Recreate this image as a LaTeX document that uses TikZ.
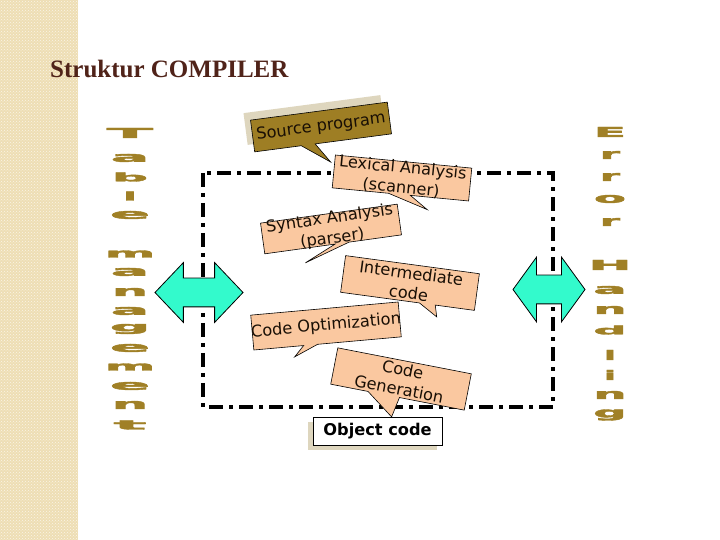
\documentclass[tikz,border=0pt]{standalone}
\usepackage{fontspec}
\usepackage{graphicx}
\usetikzlibrary{shapes}
\usetikzlibrary{shapes.arrows}
\usetikzlibrary{shadows}
\usetikzlibrary{patterns}
\newfontfamily\titlefont{Liberation Serif}
\newfontfamily\calfont{DejaVu Sans}
\newfontfamily\sidefont{DejaVu Sans}[BoldFeatures={FakeBold=2.5}]

\begin{document}
\begin{tikzpicture}[x=1pt,y=1pt,
  calltext/.style={font=\calfont\fontsize{16.2}{20}\selectfont,align=center,inner sep=0pt,text=textColor},
  callbox/.style={draw=black,line width=0.6pt,fill=peachColor,line join=miter},
  sideletter/.style={font=\sidefont\bfseries,text=goldColor,inner sep=0pt},
  dblarrow/.style={double arrow,draw=black,line width=0.8pt,fill=turqColor,inner xsep=0pt,inner ysep=14pt},
  frameline/.style={line width=3.2pt,dash pattern=on 14pt off 6pt on 4pt off 6pt}]
\definecolor{stripColor}{RGB}{238,222,180}
\definecolor{titleColor}{RGB}{80,35,25}
\definecolor{peachColor}{RGB}{250,200,160}
\definecolor{oliveColor}{RGB}{158,126,36}
\definecolor{shadowColor}{RGB}{222,214,190}
\definecolor{textColor}{RGB}{25,15,5}
\definecolor{goldColor}{RGB}{160,128,38}
\definecolor{turqColor}{RGB}{51,250,204}
\useasboundingbox (0,0) rectangle (720,540);
\fill[white] (0,0) rectangle (720,540);
\fill[stripColor] (0,0) rectangle (78,540);
\fill[pattern=crosshatch dots,pattern color=white!70!stripColor] (0,0) rectangle (78,540);

\node[anchor=base west,inner sep=0pt,text=titleColor,font=\titlefont\bfseries\fontsize{25}{30}\selectfont] (title) at (50,462) {Struktur COMPILER};

% compiler frame
\draw[frameline] (203,367) rectangle (553,133);

% side arrows
\node[dblarrow,minimum height=88pt,double arrow head extend=15.5pt,double arrow tip angle=93] (tblarrow) at (199,247.5) {};
\node[dblarrow,minimum height=72pt,double arrow head extend=18pt,double arrow tip angle=108] (errarrow) at (549,250.5) {};

% Table management / Error Handling
\foreach \ltr/\py/\lw/\lh [count=\i] in {T/133/46/10,a/158/38/8,b/177/36/9,l/196/13/9,e/215/40/8,m/254/50/7,a/272/38/8,n/292/36/8,a/311/38/8,g/329/40/10,e/348/40/8,m/367/50/7,e/386/40/8,n/405/36/8,t/425/33/9}
  \node[sideletter] (tbl\i) at (130,540-\py) {\resizebox*{\lw pt}{\lh pt}{\ltr}};
\foreach \ltr/\py/\lw/\lh [count=\i] in {E/132/32/10,r/155/20/8,r/177/20/8,o/199/32/8,r/222/20/8,H/265/43/10,a/290/33/8,n/310/33/8,d/330/33/9,l/355/12/10,i/375/12/10,n/395/33/8,g/415/33/11}
  \node[sideletter] (err\i) at (610,540-\py) {\resizebox*{\lw pt}{\lh pt}{\ltr}};

% Source program
\begin{scope}[shift={(314,420)},rotate=7.5]
\path[fill=shadowColor] (-69,16) -- (69,16) -- (69,-16) -- (-8,-16) -- (5,-36) -- (-22,-16) -- (-69,-16) -- cycle;
\end{scope}
\begin{scope}[shift={(321,413)},rotate=7.5]
\path[callbox,fill=oliveColor] (-69,16) -- (69,16) -- (69,-16) -- (-8,-16) -- (5,-36) -- (-22,-16) -- (-69,-16) -- cycle;
\node[calltext,transform shape] (src) at (0,0) {Source program};
\end{scope}

% Lexical Analysis
\begin{scope}[shift={(402,362)},rotate=-5.5]
\path[callbox] (-68.5,16.5) -- (68.5,16.5) -- (68.5,-16.5) -- (10,-16.5) -- (28,-29) -- (-12,-16.5) -- (-68.5,-16.5) -- cycle;
\node[calltext,transform shape] (lex) at (0,0) {Lexical Analysis\\(scanner)};
\end{scope}

% Syntax Analysis
\begin{scope}[shift={(331,311)},rotate=7.9]
\path[callbox] (-69,15.5) -- (69,15.5) -- (69,-15.5) -- (16,-15.5) -- (-30,-30) -- (2,-15.5) -- (-69,-15.5) -- cycle;
\node[calltext,transform shape] (syn) at (0,0) {Syntax Analysis\\(parser)};
\end{scope}

% Intermediate code
\begin{scope}[shift={(410,257)},rotate=-7.7]
\path[callbox] (-67.5,18.5) -- (67.5,18.5) -- (67.5,-18.5) -- (28,-18.5) -- (31,-30) -- (12,-18.5) -- (-67.5,-18.5) -- cycle;
\node[calltext,transform shape] (imc) at (0,0) {Intermediate\\code};
\end{scope}

% Code Optimization
\begin{scope}[shift={(326,214)},rotate=5.1]
\path[callbox] (-74,17.5) -- (74,17.5) -- (74,-17.5) -- (-10,-17.5) -- (-34,-28) -- (-24,-17.5) -- (-74,-17.5) -- cycle;
\node[calltext,transform shape] (opt) at (0,0) {Code Optimization};
\end{scope}

% Code Generation
\begin{scope}[shift={(401,161)},rotate=-11]
\path[callbox] (-68,18.5) -- (68,18.5) -- (68,-18.5) -- (2,-18.5) -- (-2,-39) -- (-30,-18.5) -- (-68,-18.5) -- cycle;
\node[calltext,transform shape] (gen) at (0,0) {Code\\Generation};
\end{scope}

\node[draw=black,line width=0.8pt,fill=white,minimum width=129pt,minimum height=28pt,inner sep=0pt,
  font=\calfont\bfseries\fontsize{16.2}{19}\selectfont,
  general shadow={fill=shadowColor,shadow xshift=-5pt,shadow yshift=-5pt}] (obj) at (377.5,109) {Object code};
\end{tikzpicture}
\end{document}
